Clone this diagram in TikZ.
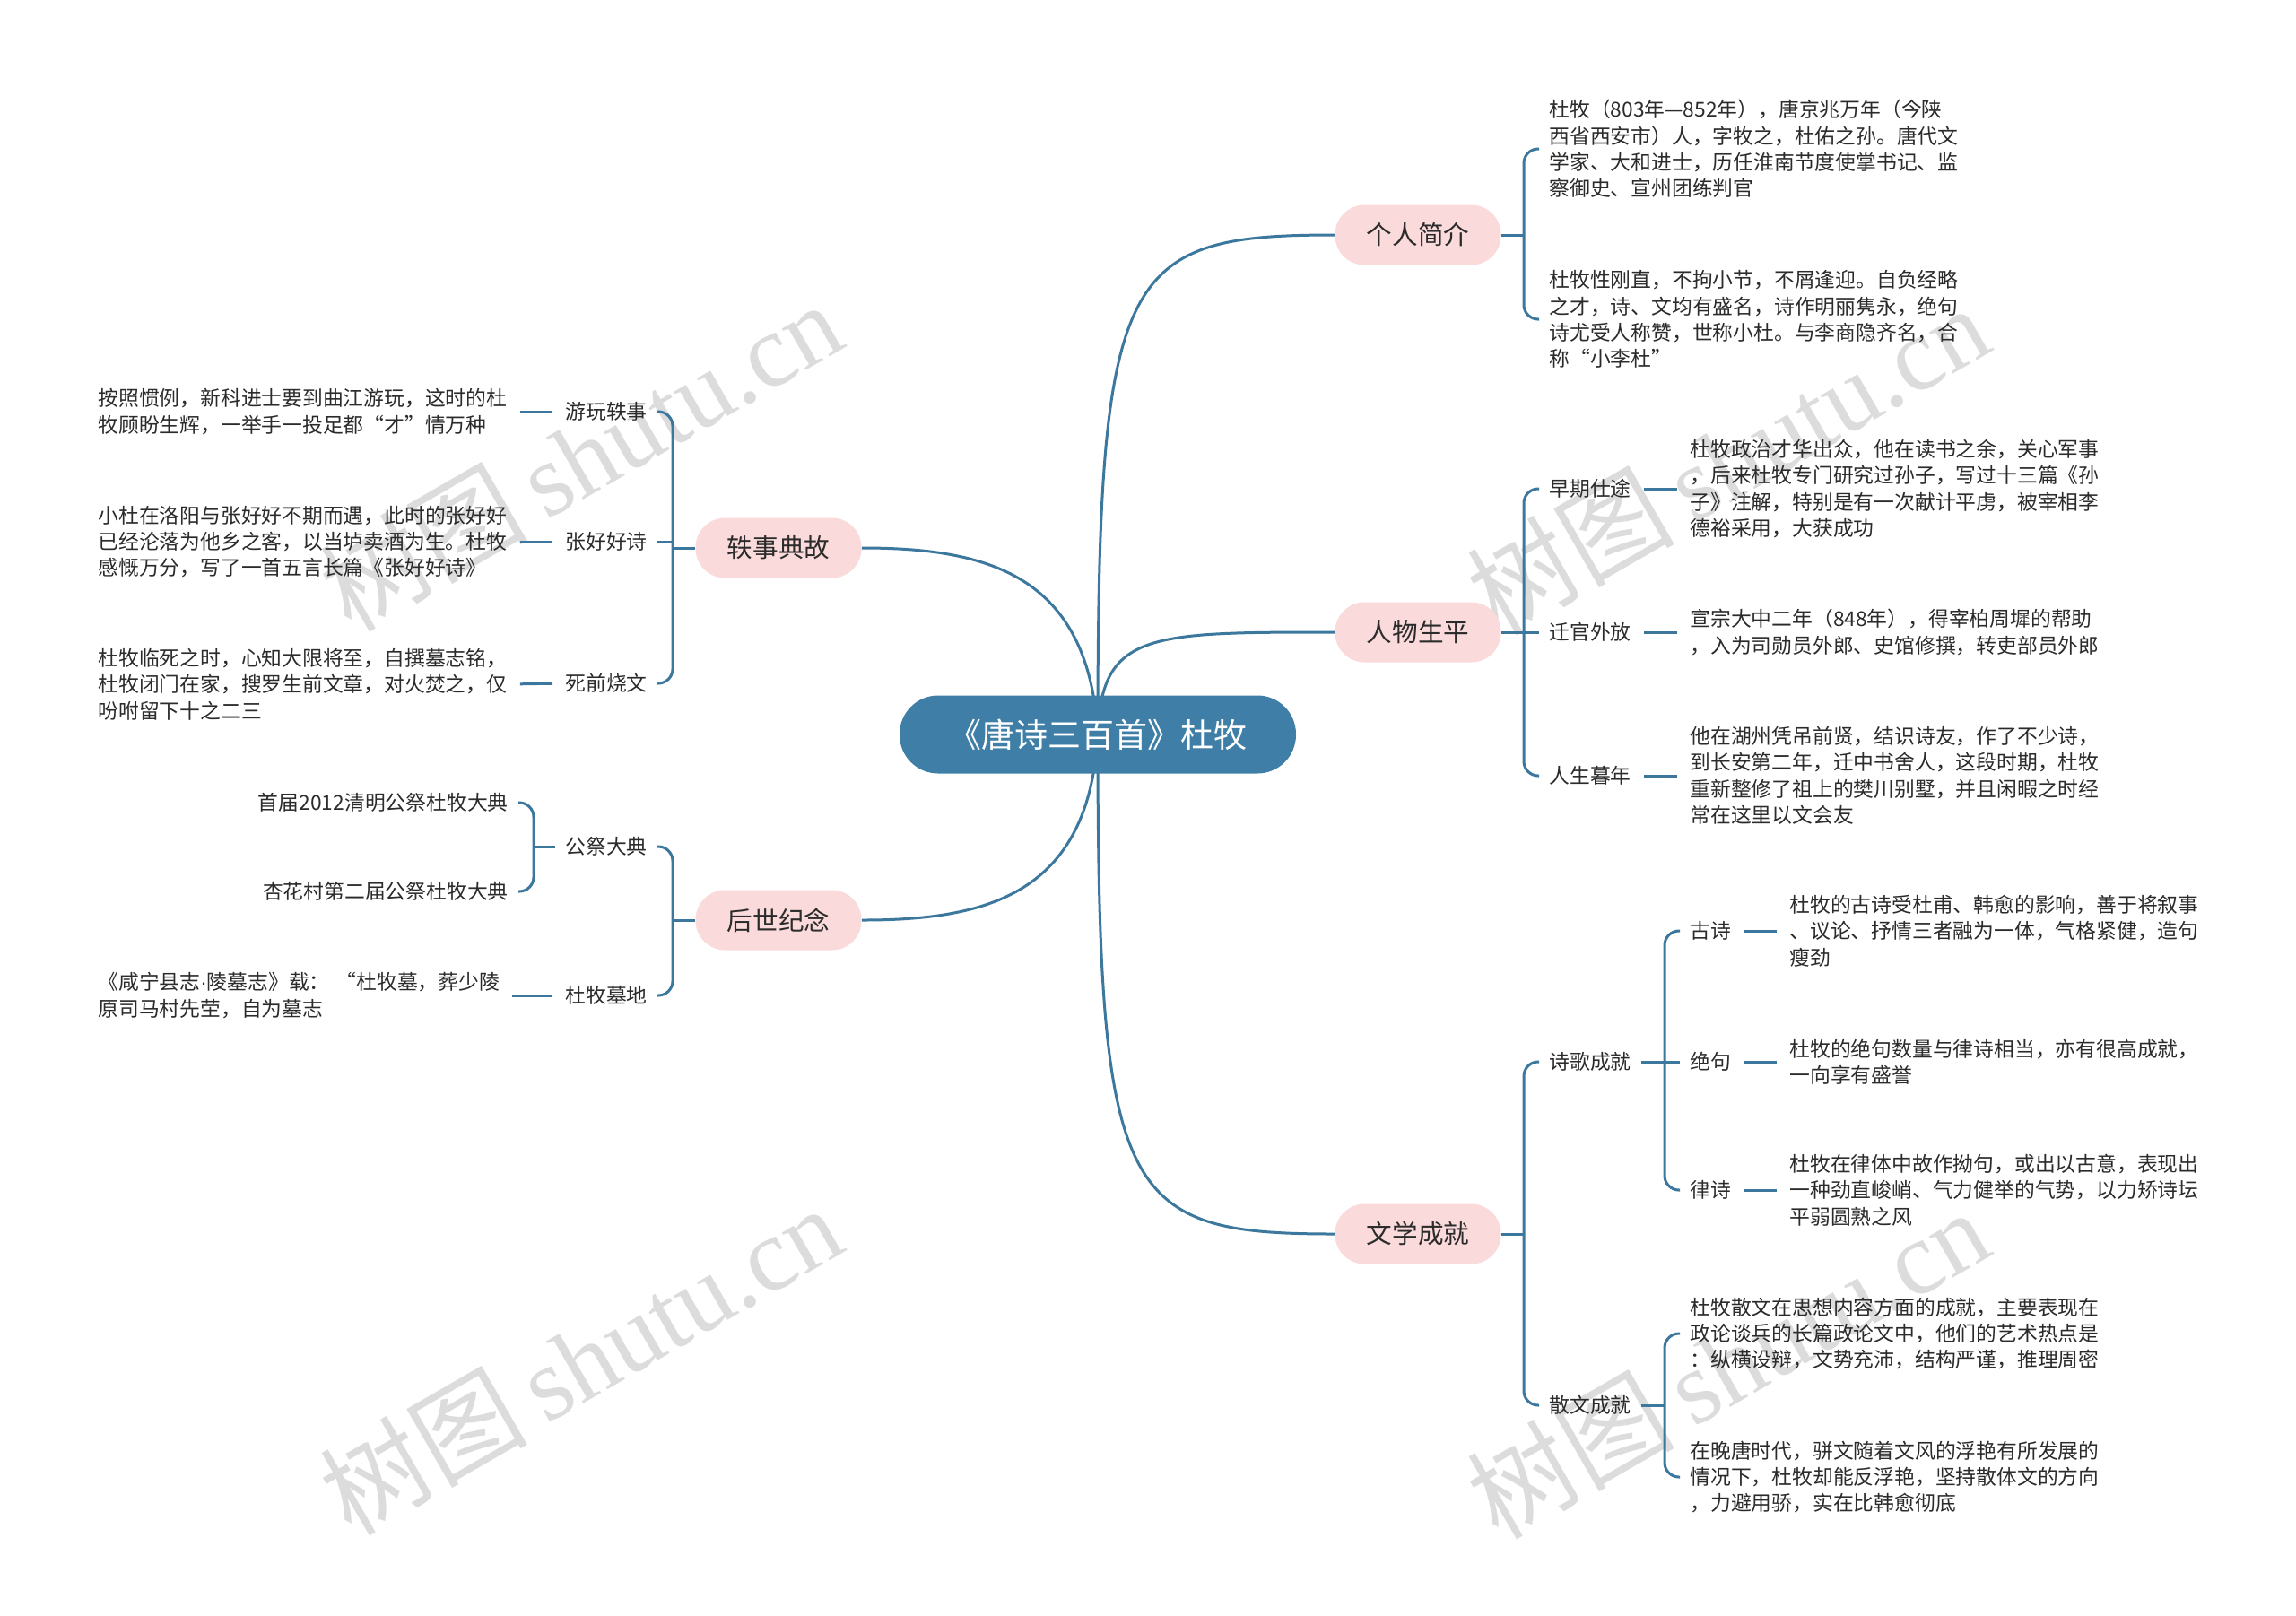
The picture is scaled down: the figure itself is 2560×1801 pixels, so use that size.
\documentclass[tikz,border=0pt]{standalone}
\usepackage{fontspec}
\setmainfont{Noto Sans CJK SC}
\newfontfamily\wmlatin{Liberation Serif}
\newfontfamily\dotfont{Liberation Sans}
\usetikzlibrary{backgrounds}

\definecolor{rootblue}{HTML}{3F7EA6}
\definecolor{linkblue}{HTML}{3C789E}
\definecolor{topicpink}{HTML}{FADADA}
\definecolor{inktext}{HTML}{2B2B2B}
\definecolor{wmgray}{HTML}{DCDCDC}

\begin{document}
\begin{tikzpicture}[x=0.5pt, y=-0.5pt,
  rootnode/.style={fill=rootblue, text=white, rounded corners=21.5pt, minimum width=221pt, minimum height=43.5pt, inner sep=0pt, font=\fontsize{18.5}{22}\selectfont},
  topic/.style={fill=topicpink, text=inktext, rounded corners=16.5pt, minimum width=92.5pt, minimum height=33.5pt, inner sep=0pt, font=\fontsize{14.3}{17}\selectfont},
  subtopic/.style={text=inktext, inner sep=0pt, font=\fontsize{11.4}{14.7}\selectfont},
  leaf/.style={text=inktext, inner sep=0pt, align=left, font=\fontsize{11.4}{14.7}\selectfont},
  link/.style={draw=linkblue, line width=1.5pt},
  brace/.style={link, rounded corners=8pt, shorten >=5.5pt},
  stub/.style={link, shorten <=7pt, shorten >=7pt},
  watermark/.style={text=wmgray, rotate=30, inner sep=0pt, font=\fontsize{58}{60}\selectfont}]
\useasboundingbox (0,0) rectangle (2560,1801);

% centre and main topics
\node[rootnode] (root) at (1224,819) {《唐诗三百首》杜牧};
\node[topic] (intro) at (1581,262) {个人简介};
\node[topic] (life) at (1581,705) {人物生平};
\node[topic] (works) at (1581,1376) {文学成就};
\node[topic] (anec) at (868,611) {轶事典故};
\node[topic] (memo) at (868,1026) {后世纪念};

% 个人简介
\node[leaf, anchor=west] (intro1) at (1727,166) {杜牧（803年—852年），唐京兆万年（今陕\\西省西安市）人，字牧之，杜佑之孙。唐代文\\学家、大和进士，历任淮南节度使掌书记、监\\察御史、宣州团练判官};
\node[leaf, anchor=west] (intro2) at (1727,356) {杜牧性刚直，不拘小节，不屑逢迎。自负经略\\之才，诗、文均有盛名，诗作明丽隽永，绝句\\诗尤受人称赞，世称小杜。与李商隐齐名，合\\称“小李杜”};

% 人物生平
\node[subtopic, anchor=west] (early) at (1727,545) {早期仕途};
\node[subtopic, anchor=west] (post) at (1727,705) {迁官外放};
\node[subtopic, anchor=west] (late) at (1727,865) {人生暮年};
\node[leaf, anchor=west] (early1) at (1884,545) {杜牧政治才华出众，他在读书之余，关心军事\\，后来杜牧专门研究过孙子，写过十三篇《孙\\子》注解，特别是有一次献计平虏，被宰相李\\德裕采用，大获成功};
\node[leaf, anchor=west] (post1) at (1884,705) {宣宗大中二年（848年），得宰柏周墀的帮助\\，入为司勋员外郎、史馆修撰，转吏部员外郎};
\node[leaf, anchor=west] (late1) at (1884,865) {他在湖州凭吊前贤，结识诗友，作了不少诗，\\到长安第二年，迁中书舍人，这段时期，杜牧\\重新整修了祖上的樊川别墅，并且闲暇之时经\\常在这里以文会友};

% 文学成就
\node[subtopic, anchor=west] (poem) at (1727,1184) {诗歌成就};
\node[subtopic, anchor=west] (prose) at (1727,1567) {散文成就};
\node[subtopic, anchor=west] (gushi) at (1884,1038) {古诗};
\node[subtopic, anchor=west] (jueju) at (1884,1184) {绝句};
\node[subtopic, anchor=west] (lvshi) at (1884,1327) {律诗};
\node[leaf, anchor=west] (gushi1) at (1995,1038) {杜牧的古诗受杜甫、韩愈的影响，善于将叙事\\、议论、抒情三者融为一体，气格紧健，造句\\瘦劲};
\node[leaf, anchor=west] (jueju1) at (1995,1184) {杜牧的绝句数量与律诗相当，亦有很高成就，\\一向享有盛誉};
\node[leaf, anchor=west] (lvshi1) at (1995,1327) {杜牧在律体中故作拗句，或出以古意，表现出\\一种劲直峻峭、气力健举的气势，以力矫诗坛\\平弱圆熟之风};
\node[leaf, anchor=west] (prose1) at (1884,1487) {杜牧散文在思想内容方面的成就，主要表现在\\政论谈兵的长篇政论文中，他们的艺术热点是\\：纵横设辩，文势充沛，结构严谨，推理周密};
\node[leaf, anchor=west] (prose2) at (1884,1647) {在晚唐时代，骈文随着文风的浮艳有所发展的\\情况下，杜牧却能反浮艳，坚持散体文的方向\\，力避用骄，实在比韩愈彻底};

% 轶事典故
\node[subtopic, anchor=east] (trip) at (722,459) {游玩轶事};
\node[subtopic, anchor=east] (haohao) at (722,604) {张好好诗};
\node[subtopic, anchor=east] (burn) at (722,762) {死前烧文};
\node[leaf, anchor=west] (trip1) at (109,459) {按照惯例，新科进士要到曲江游玩，这时的杜\\牧顾盼生辉，一举手一投足都“才”情万种};
\node[leaf, anchor=west] (haohao1) at (109,604) {小杜在洛阳与张好好不期而遇，此时的张好好\\已经沦落为他乡之客，以当垆卖酒为生。杜牧\\感慨万分，写了一首五言长篇《张好好诗》};
\node[leaf, anchor=west] (burn1) at (109,763) {杜牧临死之时，心知大限将至，自撰墓志铭，\\杜牧闭门在家，搜罗生前文章，对火焚之，仅\\吩咐留下十之二三};

% 后世纪念
\node[subtopic, anchor=east] (rite) at (722,944) {公祭大典};
\node[subtopic, anchor=east] (tomb) at (722,1110) {杜牧墓地};
\node[subtopic, anchor=east] (rite1) at (567,895) {首届2012清明公祭杜牧大典};
\node[subtopic, anchor=east] (rite2) at (567,994) {杏花村第二届公祭杜牧大典};
\node[leaf, anchor=west] (tomb1) at (109,1110) {《咸宁县志{\dotfont ·}陵墓志》载：\hspace{0.3em}“杜牧墓，葬少陵\\原司马村先茔，自为墓志};

% forks
\coordinate (introfork) at (1699,262);
\coordinate (lifefork) at (1699,705);
\coordinate (worksfork) at (1699,1376);
\coordinate (poemfork) at (1856,1184);
\coordinate (prosefork) at (1856,1567);
\coordinate (anecfork) at (750,611);
\coordinate (memofork) at (750,1026);
\coordinate (ritefork) at (595,944);

\begin{scope}[on background layer]
\fill[white] (0,0) rectangle (2560,1801);
\node[watermark] (wm1) at (647,508) {树图\,{\wmlatin shutu.cn}};
\node[watermark] (wm2) at (647,1516) {树图\,{\wmlatin shutu.cn}};
\node[watermark] (wm3) at (1926,512) {树图\,{\wmlatin shutu.cn}};
\node[watermark] (wm4) at (1926,1520) {树图\,{\wmlatin shutu.cn}};
\draw[link] (root.center) .. controls (1224,300) and (1250,262) .. (intro.west);
\draw[link] (root.center) .. controls (1228,705) and (1280,705) .. (life.west);
\draw[link] (root.center) .. controls (1224,1338) and (1250,1376) .. (works.west);
\draw[link] (root.center) .. controls (1214,640) and (1100,611) .. (anec.east);
\draw[link] (root.center) .. controls (1214,998) and (1100,1026) .. (memo.east);
\end{scope}

% right side
\draw[link] (intro.east) -- (introfork);
\draw[brace] (introfork) |- (intro1.west);
\draw[brace] (introfork) |- (intro2.west);
\draw[link] (life.east) -- (lifefork);
\draw[brace] (lifefork) |- (early.west);
\draw[link, shorten >=5.5pt] (lifefork) -- (post.west);
\draw[brace] (lifefork) |- (late.west);
\draw[stub] (early.east) -- (early1.west);
\draw[stub] (post.east) -- (post1.west);
\draw[stub] (late.east) -- (late1.west);
\draw[link] (works.east) -- (worksfork);
\draw[brace] (worksfork) |- (poem.west);
\draw[brace] (worksfork) |- (prose.west);
\draw[link, shorten <=5.5pt] (poem.east) -- (poemfork);
\draw[brace] (poemfork) |- (gushi.west);
\draw[link, shorten >=5.5pt] (poemfork) -- (jueju.west);
\draw[brace] (poemfork) |- (lvshi.west);
\draw[stub] (gushi.east) -- (gushi1.west);
\draw[stub] (jueju.east) -- (jueju1.west);
\draw[stub] (lvshi.east) -- (lvshi1.west);
\draw[link, shorten <=5.5pt] (prose.east) -- (prosefork);
\draw[brace] (prosefork) |- (prose1.west);
\draw[brace] (prosefork) |- (prose2.west);

% left side
\draw[link] (anec.west) -- (anecfork);
\draw[brace] (anecfork) |- (trip.east);
\draw[link, shorten >=5.5pt] (anecfork) |- (haohao.east);
\draw[brace] (anecfork) |- (burn.east);
\draw[stub] (trip.west) -- (trip1.east);
\draw[stub] (haohao.west) -- (haohao1.east);
\draw[stub] (burn.west) -- (burn1.east);
\draw[link] (memo.west) -- (memofork);
\draw[brace] (memofork) |- (rite.east);
\draw[brace] (memofork) |- (tomb.east);
\draw[link, shorten <=5.5pt] (rite.west) -- (ritefork);
\draw[brace] (ritefork) |- (rite1.east);
\draw[brace] (ritefork) |- (rite2.east);
\draw[stub] (tomb.west) -- (tomb1.east);
\end{tikzpicture}
\end{document}
